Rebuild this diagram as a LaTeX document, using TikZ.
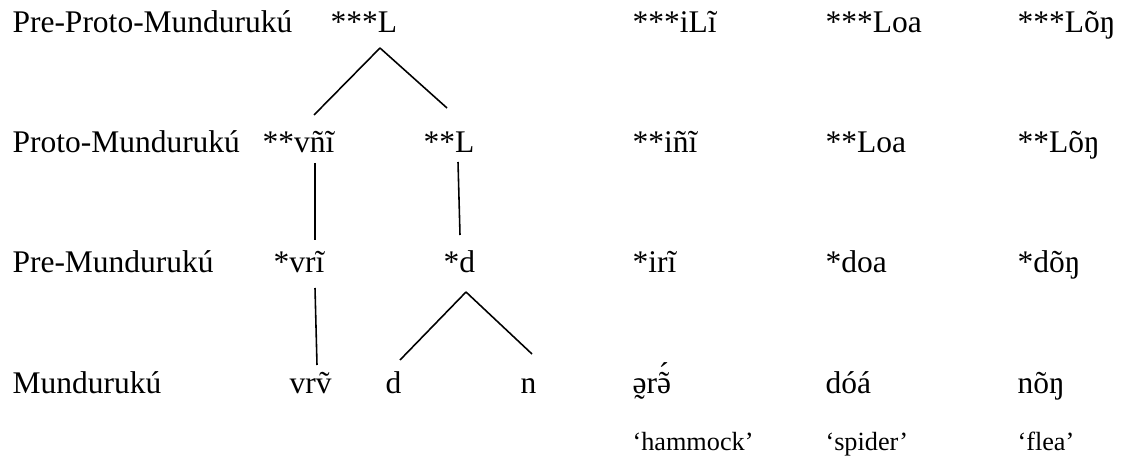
\documentclass[tikz,border=0pt]{standalone}
\usepackage{fontspec}
\setmainfont{Liberation Serif}
\usetikzlibrary{calc}
\newcommand{\creaky}[1]{\ooalign{#1\cr\hidewidth\raisebox{-0.74em}{˜}\hidewidth\cr}}
\newcommand{\nastone}[1]{\ooalign{#1\cr\hidewidth˜\hidewidth\cr\hidewidth\raisebox{0.26em}{´}\hidewidth\cr}}

\begin{document}
\begin{tikzpicture}[x=0.381pt,y=-0.381pt,
	word/.style={anchor=base west,inner sep=0pt,font=\fontsize{12}{14}\selectfont},
	gloss/.style={word,font=\fontsize{10}{12}\selectfont},
	branch/.style={line width=0.6pt}]
	\useasboundingbox (0,0) rectangle (1122,463);
	% stage labels
	\node[word] (ppm) at (12,33) {Pre-Proto-Mundurukú};
	\node[word] (pm) at (12,153) {Proto-Mundurukú};
	\node[word] (prm) at (12,273) {Pre-Mundurukú};
	\node[word] (mun) at (12,393) {Mundurukú};
	% tree
	\node[word] (L3) at (330,33) {***L};
	\node[word] (vni) at (262,153) {**vñĩ};
	\node[word] (L2) at (423,153) {**L};
	\node[word] (vri) at (273,273) {*vrĩ};
	\node[word] (d1) at (443,273) {*d};
	\node[word] (vrv) at (289,393) {vrṽ};
	\node[word] (d0) at (385,393) {d};
	\node[word] (n0) at (520,393) {n};
	% examples
	\node[word] (hamA) at (632,33) {***iLĩ};
	\node[word] (spiA) at (825,33) {***Loa};
	\node[word] (fleA) at (1017,33) {***Lõŋ};
	\node[word] (hamB) at (632,153) {**iñĩ};
	\node[word] (spiB) at (825,153) {**Loa};
	\node[word] (fleB) at (1017,153) {**Lõŋ};
	\node[word] (hamC) at (632,273) {*irĩ};
	\node[word] (spiC) at (825,273) {*doa};
	\node[word] (fleC) at (1017,273) {*dõŋ};
	\node[word] (hamD) at (632,393) {\creaky{ə}r\nastone{ə}};
	\node[word] (spiD) at (825,393) {dóá};
	\node[word] (fleD) at (1017,393) {nõŋ};
	\node[gloss] (hamE) at (632,450) {‘hammock’};
	\node[gloss] (spiE) at (825,450) {‘spider’};
	\node[gloss] (fleE) at (1017,450) {‘flea’};
	\draw[branch] ($(L3.base west)+(50,15)$) -- ($(vni.base west)+(52,-38)$);
	\draw[branch] ($(L3.base west)+(50,15)$) -- ($(L2.base west)+(24,-45)$);
	\draw[branch] ($(vni.base west)+(53,10)$) -- ($(vri.base west)+(42,-33)$);
	\draw[branch] ($(L2.base west)+(35,9)$) -- ($(d1.base west)+(17,-38)$);
	\draw[branch] ($(vri.base west)+(42,15)$) -- ($(vrv.base west)+(28,-28)$);
	\draw[branch] ($(d1.base west)+(23,19)$) -- ($(d0.base west)+(15,-33)$);
	\draw[branch] ($(d1.base west)+(23,19)$) -- ($(n0.base west)+(12,-39)$);
\end{tikzpicture}
\end{document}
